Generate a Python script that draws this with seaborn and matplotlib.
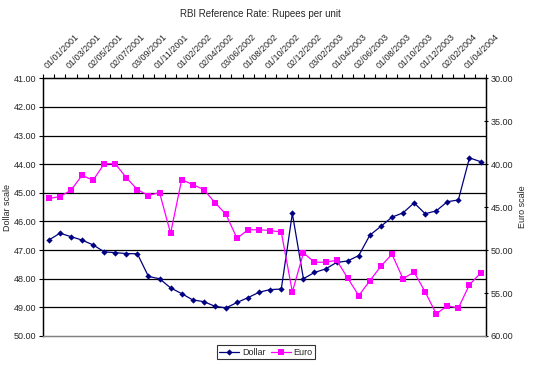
import matplotlib
matplotlib.use("Agg")
import matplotlib.pyplot as plt
import seaborn as sns
import numpy as np
import pandas as pd

# valeurs (40 points mensuels)
dollar = [46.65, 46.41, 46.53, 46.65, 46.82, 47.06, 47.09, 47.12, 47.13, 47.92,
          48.00, 48.32, 48.52, 48.74, 48.80, 48.96, 49.02, 48.83, 48.66, 48.47,
          48.38, 48.36, 45.72, 48.00, 47.78, 47.66, 47.43, 47.38, 47.19, 46.48,
          46.17, 45.85, 45.70, 45.35, 45.73, 45.63, 45.31, 45.25, 43.78, 43.91]
euro = [43.99, 43.77, 43.03, 41.30, 41.87, 39.95, 39.95, 41.57, 42.96, 43.65,
        43.30, 48.05, 41.80, 42.37, 42.96, 44.46, 45.84, 48.63, 47.63, 47.63,
        47.72, 47.90, 54.87, 50.33, 51.41, 51.41, 51.18, 53.26, 55.30, 53.57,
        51.87, 50.48, 53.33, 52.56, 54.87, 57.42, 56.49, 56.73, 54.03, 52.68]
date_labels = ["01/01/2001", "01/03/2001", "02/05/2001", "02/07/2001", "03/09/2001",
               "01/11/2001", "01/02/2002", "02/04/2002", "03/06/2002", "01/08/2002",
               "01/10/2002", "02/12/2002", "03/02/2003", "01/04/2003", "02/06/2003",
               "01/08/2003", "01/10/2003", "01/12/2003", "02/02/2004", "01/04/2004"]

df = pd.DataFrame({"idx": np.arange(len(dollar)), "Dollar": dollar, "Euro": euro})

sns.set_style("white")
plt.rcParams["font.family"] = ["Liberation Sans", "DejaVu Sans"]
fs = 6.5

fig = plt.figure(figsize=(5.36, 3.70), dpi=100)
ax = fig.add_axes([0.0808, 0.0919, 0.826, 0.6965])
ax2 = ax.twinx()

sns.lineplot(data=df, x="idx", y="Dollar", ax=ax, color="#000080", marker="D",
             markersize=3.2, markeredgewidth=0, linewidth=0.9, label="Dollar", legend=False)
sns.lineplot(data=df, x="idx", y="Euro", ax=ax2, color="#FF00FF", marker="s",
             markersize=4.3, markeredgewidth=0, linewidth=0.9, label="Euro", legend=False)

ax.set_xlim(-0.5, len(dollar) - 0.5)
ax.set_ylim(50, 41)
ax2.set_ylim(60, 30)

# grille horizontale noire
for v in range(42, 50):
    ax.axhline(v, color="black", linewidth=0.9, zorder=0)

ax.set_yticks(np.arange(41, 51))
ax.set_yticklabels([f"{v:.2f}" for v in range(41, 51)], fontsize=fs)
ax2.set_yticks(np.arange(30, 61, 5))
ax2.set_yticklabels([f"{v:.2f}" for v in range(30, 61, 5)], fontsize=fs)

# axe des catégories en haut
ax.xaxis.tick_top()
ax.set_xticks(np.arange(0, len(dollar), 2))
ax.set_xticklabels(date_labels, rotation=45, ha="left", va="bottom",
                   rotation_mode="anchor", fontsize=fs)
ax.set_xticks(np.arange(-0.5, len(dollar), 1), minor=True)
ax.tick_params(axis="x", which="major", length=0, pad=6, top=True, bottom=False)
ax.tick_params(axis="x", which="minor", length=3, width=0.8, top=True, bottom=False,
               color="black", direction="out")
ax.tick_params(axis="y", length=3, width=0.8, direction="out", left=True, color="black", pad=2)
ax2.tick_params(axis="y", length=3, width=0.8, direction="inout", right=True, color="black", pad=2)
ax.set_xlabel("")

ax.set_ylabel("Dollar scale", fontsize=fs, labelpad=1)
ax2.set_ylabel("Euro scale", fontsize=fs, rotation=90, labelpad=3)

for a in (ax, ax2):
    for side in ("left", "right", "top"):
        a.spines[side].set_color("black")
        a.spines[side].set_linewidth(0.9)
    a.spines["bottom"].set_color("#808080")
    a.spines["bottom"].set_linewidth(0.9)

fig.suptitle("RBI Reference Rate: Rupees per unit", fontsize=7, x=0.485, y=0.975)

h1, l1 = ax.get_legend_handles_labels()
h2, l2 = ax2.get_legend_handles_labels()
leg = fig.legend(h1 + h2, l1 + l2, loc="center", bbox_to_anchor=(0.496, 0.048), ncol=2,
                 fontsize=fs, frameon=True, fancybox=False, edgecolor="black",
                 handlelength=2.2, handletextpad=0.3, columnspacing=0.6,
                 borderpad=0.3)
leg.get_frame().set_linewidth(0.8)

fig.savefig("out.png", dpi=100)
